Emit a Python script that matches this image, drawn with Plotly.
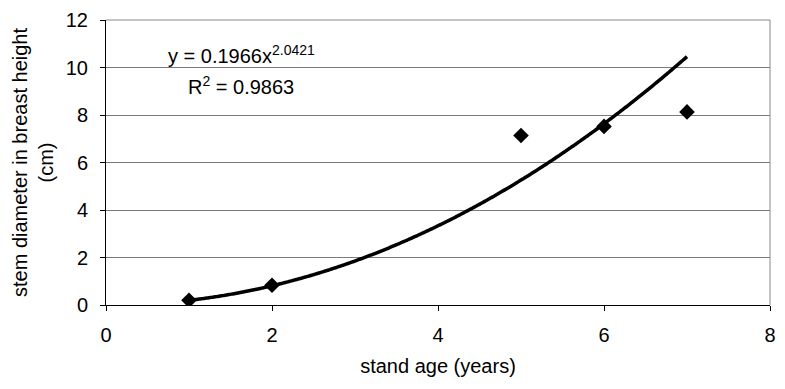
import numpy as np
import plotly.graph_objects as go

# stand age (years) and measured stem diameter at breast height (cm)
age = [1, 2, 5, 6, 7]
diameter = [0.2, 0.83, 7.14, 7.52, 8.13]

# power trendline y = a * x^b
coef_a = 0.1966
coef_b = 2.0421
r_squared = 0.9863

x_fit = np.linspace(1, 7, 200)
y_fit = coef_a * x_fit ** coef_b

font_family = "Liberation Sans, Arial, sans-serif"
fs = 20

fig = go.Figure()
fig.add_trace(go.Scatter(
    x=x_fit, y=y_fit, mode="lines",
    line=dict(color="black", width=3.5, shape="spline"),
    showlegend=False, hoverinfo="skip",
))
fig.add_trace(go.Scatter(
    x=age, y=diameter, mode="markers",
    marker=dict(symbol="diamond", size=12, color="black"),
    showlegend=False,
))

fig.add_annotation(
    x=0.204, y=0.88, xref="paper", yref="paper",
    text=f"y = {coef_a}x<sup>{coef_b}</sup>",
    showarrow=False, xanchor="center", yanchor="middle",
    font=dict(family=font_family, size=fs, color="black"),
)
fig.add_annotation(
    x=0.204, y=0.77, xref="paper", yref="paper",
    text=f"R<sup>2</sup> = {r_squared}",
    showarrow=False, xanchor="center", yanchor="middle",
    font=dict(family=font_family, size=fs, color="black"),
)

# gray frame on top and right
fig.add_shape(type="line", xref="paper", yref="paper", x0=0, x1=1, y0=1, y1=1,
              line=dict(color="#888888", width=1))
fig.add_shape(type="line", xref="paper", yref="paper", x0=1, x1=1, y0=0, y1=1,
              line=dict(color="#888888", width=1))

fig.update_xaxes(
    range=[0, 8], dtick=2, tick0=0,
    showgrid=False, zeroline=False,
    showline=True, linecolor="black", linewidth=1,
    ticks="outside", ticklen=5, tickcolor="black",
    ticklabelstandoff=7,
    tickfont=dict(family=font_family, size=fs, color="black"),
    title=dict(text="stand age (years)", standoff=13,
               font=dict(family=font_family, size=fs, color="black")),
)
fig.update_yaxes(
    range=[0, 12], dtick=2, tick0=0,
    showgrid=True, gridcolor="#7a7a7a", gridwidth=1,
    zeroline=False,
    showline=True, linecolor="black", linewidth=1,
    ticks="outside", ticklen=5, tickcolor="black",
    ticklabelstandoff=8,
    tickfont=dict(family=font_family, size=fs, color="black"),
    title=dict(text="stem diameter in breast height<br>(cm)", standoff=6,
               font=dict(family=font_family, size=fs, color="black")),
)

fig.update_layout(
    width=785, height=389,
    margin=dict(l=106, r=9, t=16, b=84),
    plot_bgcolor="white", paper_bgcolor="white",
)

fig.write_html("out.html")
